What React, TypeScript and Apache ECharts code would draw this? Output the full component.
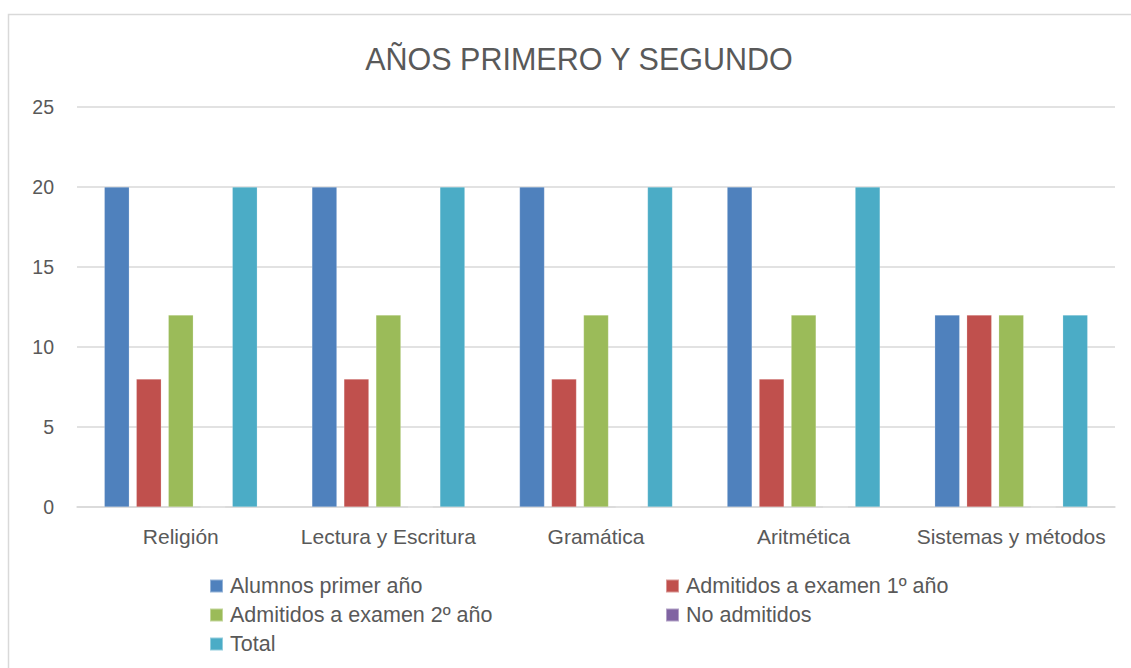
import React, { useEffect, useRef } from "react";
import * as echarts from "echarts";

const categories = ["Religión", "Lectura y Escritura", "Gramática", "Aritmética", "Sistemas y métodos"];
const alumnosPrimer = [20, 20, 20, 20, 12];
const admitidos1 = [8, 8, 8, 8, 12];
const admitidos2 = [12, 12, 12, 12, 12];
const noAdmitidos = [0, 0, 0, 0, 0];
const total = [20, 20, 20, 20, 12];
const seriesNames = [
  "Alumnos primer año",
  "Admitidos a examen 1º año",
  "Admitidos a examen 2º año",
  "No admitidos",
  "Total",
];
const seriesData = [alumnosPrimer, admitidos1, admitidos2, noAdmitidos, total];
const colors = ["#4f81bd", "#c0504d", "#9bbb59", "#8064a2", "#4bacc6"];

const FONT = "'Liberation Sans', Arial, sans-serif";
const TXT = "#595959";

export default function App() {
  const ref = useRef<HTMLDivElement>(null);
  useEffect(() => {
    if (!ref.current) return;
    const chart = echarts.init(ref.current, null, { renderer: "svg" });
    const legendText = { fontFamily: FONT, fontSize: 21.5, color: TXT, padding: [0, 0, 0, 2] };
    chart.setOption({
      animation: false,
      backgroundColor: "#ffffff",
      color: colors,
      textStyle: { fontFamily: FONT },
      graphic: [
        {
          type: "rect",
          shape: { x: 8.5, y: 14.5, width: 1140, height: 700 },
          style: { fill: "none", stroke: "#d9d9d9", lineWidth: 1.5 },
          silent: true,
        },
      ],
      title: {
        text: "AÑOS PRIMERO Y SEGUNDO",
        left: 574,
        textAlign: "center",
        top: 38,
        textStyle: { fontFamily: FONT, fontSize: 30.5, fontWeight: "normal", color: TXT },
      },
      grid: { left: 77, right: 16, top: 107, bottom: 161, containLabel: false },
      legend: [
        {
          data: [seriesNames[0], seriesNames[2], seriesNames[4]],
          orient: "vertical",
          left: 209,
          top: 575,
          padding: 0,
          itemWidth: 13,
          itemHeight: 13,
          itemGap: 7,
          icon: "rect",
          textStyle: legendText,
        },
        {
          data: [seriesNames[1], seriesNames[3]],
          orient: "vertical",
          left: 665,
          top: 575,
          padding: 0,
          itemWidth: 13,
          itemHeight: 13,
          itemGap: 7,
          icon: "rect",
          textStyle: legendText,
        },
      ],
      xAxis: {
        type: "category",
        data: categories,
        axisLine: { lineStyle: { color: "#d9d9d9", width: 1.5 } },
        axisTick: { show: false },
        axisLabel: { interval: 0, fontFamily: FONT, fontSize: 21, color: TXT, margin: 19 },
      },
      yAxis: {
        type: "value",
        min: 0,
        max: 25,
        interval: 5,
        axisLine: { show: false },
        axisTick: { show: false },
        splitLine: { lineStyle: { color: "#d9d9d9", width: 1.5 } },
        axisLabel: { fontFamily: FONT, fontSize: 19.5, color: TXT, margin: 23 },
      },
      series: seriesNames.map((name, i) => ({
        name,
        type: "bar",
        data: seriesData[i],
        barWidth: 25,
        barGap: "28%",
        itemStyle: { color: colors[i], borderColor: "rgba(255,255,255,0.4)", borderWidth: 0.5 },
      })),
    });
    return () => chart.dispose();
  }, []);
  return (
    <div
      ref={ref}
      style={{ position: "absolute", left: 0, top: 0, width: 1131, height: 668 }}
    />
  );
}
